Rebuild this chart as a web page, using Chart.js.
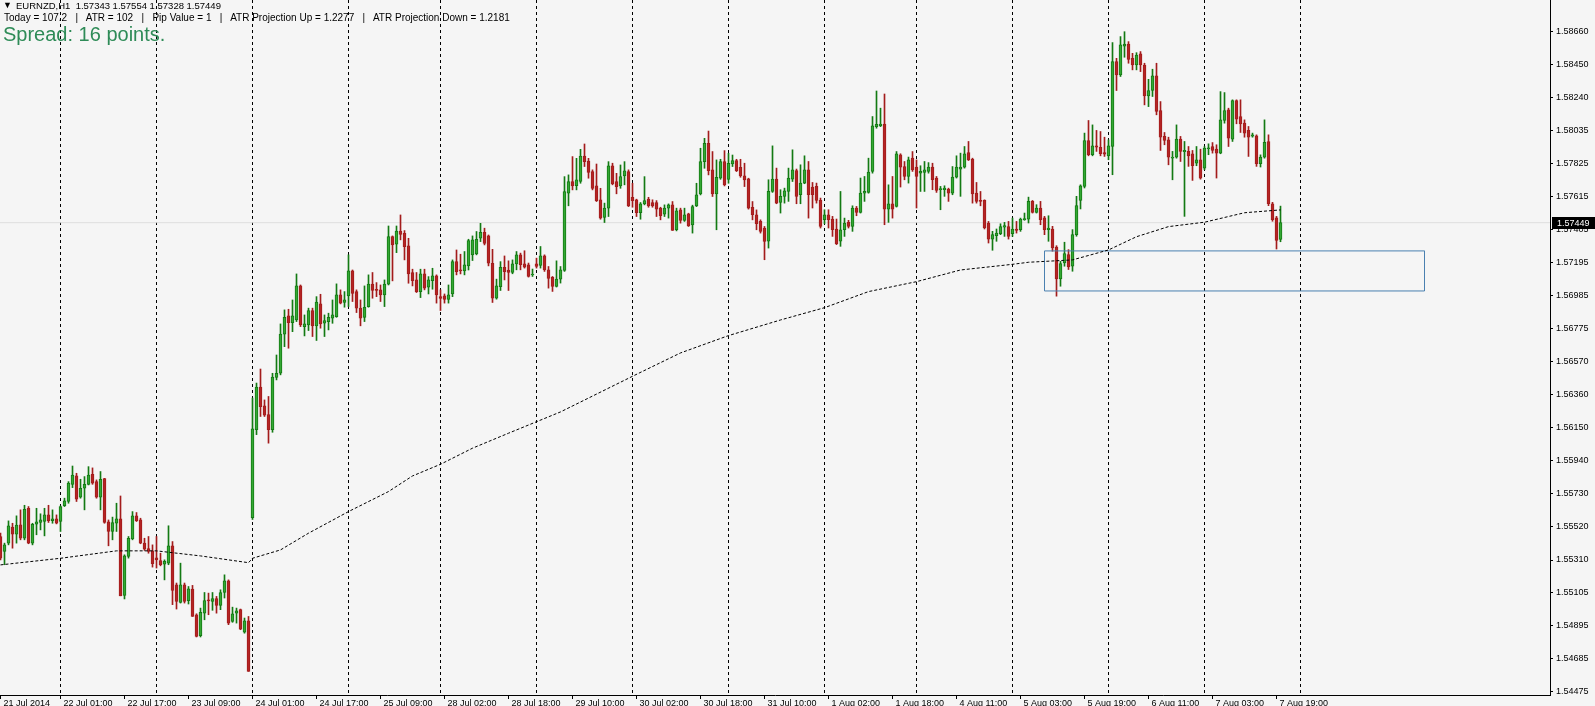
<!DOCTYPE html>
<html><head><meta charset="utf-8">
<script src="https://cdn.jsdelivr.net/npm/chart.js@4.4.1/dist/chart.umd.min.js"></script>
<style>
html,body{margin:0;padding:0;background:#f5f5f5;}
#wrap{position:relative;width:1595px;height:706px;overflow:hidden;background:#f5f5f5;}
#c{position:absolute;left:0;top:0;}
.hdr{position:absolute;white-space:pre;font-family:"Liberation Sans",Arial,sans-serif;color:#000;}
</style></head><body>
<div id="wrap">
<canvas id="c" width="1595" height="706"></canvas>
<div class="hdr" style="left:3px;top:0px;font-size:9px;line-height:10px">▼</div>
<div class="hdr" id="h1" style="left:16px;top:0px;font-size:9.5px;line-height:11px"></div>
<div class="hdr" id="h2" style="left:4px;top:12px;font-size:10px;line-height:12px"></div>
<div class="hdr" id="h3" style="left:3px;top:23px;font-size:20px;line-height:23px;color:#2e8b57"></div>
</div>
<script>
// ---------- DATA ----------
const symbolLine = 'EURNZD,H1  1.57343 1.57554 1.57328 1.57449';
const infoLine = 'Today = 107.2   |   ATR = 102   |   Pip Value = 1   |   ATR Projection Up = 1.2277   |   ATR Projection Down = 1.2181';
const spreadText = 'Spread: 16 points.';

const openP = [
1.55459,1.55364,1.55417,1.55518,1.55474,1.55533,1.55448,1.55638,1.55417,1.55537,
1.55548,1.55554,1.55596,1.55560,1.55571,1.55554,1.55655,1.55681,1.55790,1.55843,
1.55708,1.55765,1.55790,1.55854,1.55807,1.55708,1.55826,1.55552,1.55491,1.55543,
1.55571,1.55086,1.55332,1.55444,1.55590,1.55564,1.55417,1.55383,1.55368,1.55324,
1.55307,1.55284,1.55290,1.55400,1.55153,1.55041,1.55153,1.55052,1.55126,1.54963,
1.54830,1.54973,1.55057,1.55048,1.55065,1.55022,1.55104,1.55178,1.54921,1.54973,
1.54995,1.54853,1.54925,1.55578,1.56137,1.56407,1.56287,1.56232,1.56137,1.56468,
1.56494,1.56742,1.56858,1.56815,1.56832,1.57048,1.56790,1.56801,1.56892,1.56795,
1.56934,1.56811,1.56822,1.56843,1.56853,1.56991,1.56943,1.56985,1.57143,1.57012,
1.56907,1.56849,1.56917,1.57059,1.57027,1.57023,1.56991,1.57059,1.57361,1.57312,
1.57395,1.57382,1.57302,1.57133,1.57086,1.57012,1.57124,1.57040,1.57082,1.57112,
1.56980,1.56985,1.56963,1.56997,1.57202,1.57149,1.57143,1.57175,1.57245,1.57251,
1.57350,1.57388,1.57365,1.57192,1.56970,1.57044,1.57166,1.57149,1.57134,1.57188,
1.57245,1.57188,1.57182,1.57117,1.57188,1.57178,1.57239,1.57150,1.57102,1.57045,
1.57091,1.57146,1.57636,1.57710,1.57684,1.57710,1.57872,1.57840,1.57773,1.57682,
1.57594,1.57482,1.57541,1.57809,1.57710,1.57682,1.57746,1.57773,1.57610,1.57594,
1.57513,1.57568,1.57598,1.57577,1.57577,1.57541,1.57503,1.57541,1.57562,1.57404,
1.57530,1.57463,1.57505,1.57435,1.57556,1.57632,1.57836,1.57952,1.57784,1.57632,
1.57731,1.57836,1.57724,1.57821,1.57843,1.57800,1.57746,1.57727,1.57547,1.57499,
1.57457,1.57414,1.57331,1.57647,1.57725,1.57578,1.57616,1.57647,1.57725,1.57780,
1.57626,1.57700,1.57784,1.57675,1.57679,1.57590,1.57468,1.57499,1.57472,1.57409,
1.57331,1.57404,1.57451,1.57425,1.57542,1.57514,1.57636,1.57641,1.57774,1.58058,
1.58063,1.58075,1.57535,1.57569,1.57552,1.57879,1.57805,1.57742,1.57858,1.57801,
1.57763,1.57767,1.57774,1.57801,1.57732,1.57658,1.57658,1.57662,1.57636,1.57738,
1.57789,1.57801,1.57894,1.57852,1.57636,1.57590,1.57590,1.57447,1.57345,1.57367,
1.57379,1.57421,1.57425,1.57379,1.57409,1.57404,1.57468,1.57472,1.57584,1.57514,
1.57542,1.57479,1.57405,1.57409,1.57295,1.57092,1.57194,1.57246,1.57173,1.57373,
1.57590,1.57679,1.57970,1.57880,1.57936,1.57926,1.57894,1.57873,1.57932,1.58470,
1.58386,1.58569,1.58582,1.58491,1.58449,1.58519,1.58449,1.58253,1.58287,1.58380,
1.58160,1.57996,1.57974,1.57858,1.57865,1.57979,1.57899,1.57901,1.57886,1.57827,
1.57848,1.57795,1.57918,1.57932,1.57915,1.57890,1.58097,1.58164,1.57979,1.58223,
1.58122,1.58080,1.58034,1.57998,1.58000,1.57823,1.57865,1.57964,1.57569,1.57479,
1.57343];

const highP = [
1.55480,1.55417,1.55558,1.55543,1.55590,1.55628,1.55657,1.55649,1.55543,1.55638,
1.55603,1.55638,1.55657,1.55628,1.55596,1.55653,1.55702,1.55807,1.55906,1.55860,
1.55822,1.55839,1.55902,1.55894,1.55818,1.55871,1.55828,1.55564,1.55582,1.55670,
1.55716,1.55343,1.55459,1.55617,1.55611,1.55575,1.55448,1.55459,1.55406,1.55459,
1.55353,1.55311,1.55527,1.55427,1.55164,1.55290,1.55164,1.55142,1.55149,1.54969,
1.55005,1.55104,1.55100,1.55104,1.55079,1.55121,1.55216,1.55184,1.55011,1.55005,
1.54999,1.54942,1.54952,1.56337,1.56432,1.56521,1.56325,1.56347,1.56494,1.56610,
1.56807,1.56896,1.56900,1.56959,1.57124,1.57054,1.56864,1.56907,1.56907,1.56980,
1.56995,1.56864,1.56875,1.56959,1.57061,1.57023,1.57012,1.57245,1.57149,1.57023,
1.56959,1.57048,1.57118,1.57133,1.57069,1.57054,1.57086,1.57428,1.57365,1.57428,
1.57498,1.57399,1.57350,1.57154,1.57133,1.57154,1.57154,1.57107,1.57160,1.57118,
1.57023,1.56997,1.57054,1.57213,1.57276,1.57249,1.57266,1.57344,1.57365,1.57393,
1.57445,1.57414,1.57371,1.57280,1.57091,1.57202,1.57238,1.57207,1.57213,1.57266,
1.57256,1.57271,1.57193,1.57155,1.57224,1.57298,1.57245,1.57171,1.57108,1.57207,
1.57171,1.57741,1.57752,1.57868,1.57857,1.57914,1.57948,1.57857,1.57784,1.57821,
1.57667,1.57573,1.57836,1.57826,1.57762,1.57815,1.57836,1.57784,1.57699,1.57598,
1.57577,1.57741,1.57610,1.57594,1.57589,1.57547,1.57562,1.57568,1.57583,1.57541,
1.57541,1.57541,1.57509,1.57560,1.57699,1.57921,1.57984,1.58030,1.57900,1.57847,
1.57851,1.57906,1.57889,1.57878,1.57851,1.57851,1.57826,1.57731,1.57583,1.57530,
1.57467,1.57425,1.57721,1.57936,1.57795,1.57658,1.57668,1.57795,1.57911,1.57789,
1.57816,1.57873,1.57837,1.57704,1.57700,1.57605,1.57531,1.57531,1.57489,1.57472,
1.57647,1.57478,1.57464,1.57556,1.57552,1.57732,1.57742,1.57858,1.58122,1.58284,
1.58175,1.58265,1.57689,1.57742,1.57900,1.57886,1.57837,1.57865,1.57900,1.57847,
1.57810,1.57837,1.57830,1.57826,1.57742,1.57679,1.57683,1.57668,1.57805,1.57873,
1.57890,1.57932,1.57964,1.57858,1.57704,1.57647,1.57594,1.57457,1.57394,1.57409,
1.57442,1.57451,1.57457,1.57478,1.57457,1.57478,1.57510,1.57611,1.57590,1.57563,
1.57584,1.57489,1.57493,1.57426,1.57303,1.57204,1.57325,1.57278,1.57405,1.57616,
1.57689,1.58017,1.58097,1.58069,1.58034,1.58027,1.57991,1.57974,1.58591,1.58491,
1.58629,1.58660,1.58597,1.58523,1.58527,1.58534,1.58460,1.58358,1.58422,1.58460,
1.58217,1.58021,1.57991,1.57901,1.58069,1.57996,1.57964,1.57932,1.57907,1.57932,
1.57915,1.57932,1.57949,1.57957,1.57943,1.58280,1.58274,1.58175,1.58228,1.58228,
1.58228,1.58101,1.58059,1.58017,1.58006,1.57879,1.58101,1.58006,1.57578,1.57489,
1.57554];

const lowP = [
1.55311,1.55280,1.55406,1.55385,1.55417,1.55438,1.55438,1.55413,1.55406,1.55470,
1.55501,1.55463,1.55548,1.55543,1.55539,1.55491,1.55649,1.55670,1.55769,1.55681,
1.55702,1.55628,1.55786,1.55790,1.55702,1.55628,1.55543,1.55400,1.55438,1.55491,
1.55083,1.55063,1.55322,1.55438,1.55554,1.55413,1.55371,1.55353,1.55265,1.55259,
1.55273,1.55184,1.55280,1.55027,1.54999,1.55037,1.55037,1.55031,1.54952,1.54822,
1.54822,1.54931,1.54963,1.54991,1.54973,1.54995,1.55069,1.54900,1.54915,1.54910,
1.54868,1.54846,1.54604,1.55567,1.56105,1.56220,1.56220,1.56051,1.56120,1.56452,
1.56484,1.56663,1.56653,1.56758,1.56822,1.56790,1.56731,1.56765,1.56727,1.56702,
1.56780,1.56727,1.56769,1.56811,1.56849,1.56934,1.56913,1.56917,1.56949,1.56879,
1.56795,1.56822,1.56913,1.56970,1.56980,1.56949,1.56917,1.57054,1.57080,1.57259,
1.57340,1.57213,1.57065,1.57048,1.57006,1.56974,1.57023,1.56997,1.57027,1.56939,
1.56892,1.56939,1.56939,1.56980,1.57118,1.57124,1.57118,1.57149,1.57209,1.57245,
1.57329,1.57308,1.57175,1.56943,1.56964,1.57019,1.57086,1.57019,1.57125,1.57150,
1.57150,1.57161,1.57104,1.57108,1.57161,1.57161,1.57140,1.57034,1.57013,1.57041,
1.57066,1.57140,1.57556,1.57657,1.57657,1.57699,1.57805,1.57731,1.57657,1.57583,
1.57471,1.57450,1.57488,1.57689,1.57632,1.57667,1.57689,1.57551,1.57547,1.57488,
1.57471,1.57562,1.57547,1.57547,1.57488,1.57467,1.57488,1.57478,1.57400,1.57397,
1.57446,1.57457,1.57425,1.57383,1.57551,1.57625,1.57794,1.57752,1.57615,1.57404,
1.57724,1.57682,1.57699,1.57805,1.57773,1.57737,1.57678,1.57535,1.57467,1.57404,
1.57383,1.57214,1.57288,1.57641,1.57569,1.57510,1.57573,1.57584,1.57710,1.57569,
1.57569,1.57696,1.57478,1.57542,1.57573,1.57415,1.57442,1.57415,1.57362,1.57310,
1.57299,1.57362,1.57415,1.57394,1.57493,1.57510,1.57584,1.57636,1.57763,1.58048,
1.58058,1.57436,1.57451,1.57478,1.57548,1.57675,1.57721,1.57700,1.57774,1.57542,
1.57647,1.57647,1.57763,1.57658,1.57641,1.57531,1.57616,1.57584,1.57626,1.57732,
1.57616,1.57795,1.57843,1.57573,1.57573,1.57556,1.57409,1.57320,1.57274,1.57331,
1.57373,1.57362,1.57345,1.57362,1.57383,1.57394,1.57464,1.57447,1.57510,1.57510,
1.57436,1.57373,1.57331,1.57268,1.56983,1.57046,1.57173,1.57152,1.57141,1.57363,
1.57536,1.57669,1.57873,1.57873,1.57901,1.57873,1.57869,1.57848,1.57753,1.58287,
1.58376,1.58498,1.58460,1.58418,1.58418,1.58407,1.58196,1.58185,1.58249,1.58133,
1.57907,1.57943,1.57816,1.57721,1.57858,1.57837,1.57489,1.57806,1.57717,1.57810,
1.57725,1.57785,1.57880,1.57890,1.57732,1.57886,1.58080,1.57932,1.57964,1.58076,
1.58021,1.57991,1.57869,1.57991,1.57806,1.57802,1.57858,1.57557,1.57458,1.57282,
1.57328];

const closeP = [
1.55322,1.55406,1.55526,1.55474,1.55531,1.55448,1.55632,1.55417,1.55537,1.55552,
1.55564,1.55596,1.55560,1.55571,1.55543,1.55649,1.55685,1.55797,1.55849,1.55695,
1.55765,1.55790,1.55849,1.55797,1.55708,1.55822,1.55548,1.55491,1.55548,1.55571,
1.55083,1.55337,1.55448,1.55590,1.55560,1.55417,1.55379,1.55364,1.55286,1.55311,
1.55280,1.55301,1.55400,1.55117,1.55048,1.55153,1.55048,1.55128,1.54952,1.54826,
1.54978,1.55052,1.55050,1.55065,1.55022,1.55104,1.55178,1.54910,1.54969,1.54988,
1.54872,1.54925,1.54604,1.56141,1.56407,1.56283,1.56228,1.56137,1.56470,1.56494,
1.56742,1.56849,1.56815,1.56858,1.57048,1.56801,1.56807,1.56892,1.56795,1.56945,
1.56807,1.56828,1.56849,1.56864,1.56991,1.56939,1.56959,1.57143,1.57001,1.56907,
1.56843,1.56913,1.57059,1.57019,1.57019,1.56991,1.57059,1.57361,1.57308,1.57395,
1.57374,1.57297,1.57124,1.57082,1.57012,1.57124,1.57033,1.57086,1.57112,1.56991,
1.56968,1.56963,1.56991,1.57202,1.57139,1.57143,1.57181,1.57335,1.57340,1.57344,
1.57388,1.57318,1.57192,1.56970,1.57048,1.57166,1.57139,1.57133,1.57188,1.57245,
1.57182,1.57167,1.57108,1.57121,1.57171,1.57239,1.57150,1.57096,1.57045,1.57091,
1.57150,1.57646,1.57710,1.57682,1.57720,1.57872,1.57836,1.57767,1.57667,1.57589,
1.57478,1.57541,1.57809,1.57695,1.57678,1.57741,1.57777,1.57556,1.57589,1.57513,
1.57568,1.57589,1.57556,1.57556,1.57535,1.57494,1.57541,1.57562,1.57400,1.57524,
1.57463,1.57499,1.57429,1.57551,1.57625,1.57836,1.57952,1.57779,1.57632,1.57737,
1.57836,1.57689,1.57826,1.57843,1.57779,1.57746,1.57720,1.57541,1.57499,1.57442,
1.57393,1.57330,1.57647,1.57725,1.57573,1.57616,1.57651,1.57732,1.57784,1.57616,
1.57700,1.57784,1.57626,1.57626,1.57590,1.57425,1.57499,1.57468,1.57404,1.57316,
1.57404,1.57447,1.57425,1.57542,1.57514,1.57636,1.57647,1.57770,1.58063,1.58073,
1.58075,1.57535,1.57569,1.57535,1.57886,1.57801,1.57742,1.57848,1.57784,1.57742,
1.57774,1.57784,1.57801,1.57721,1.57654,1.57666,1.57668,1.57636,1.57738,1.57801,
1.57801,1.57886,1.57847,1.57632,1.57584,1.57584,1.57415,1.57345,1.57373,1.57383,
1.57425,1.57430,1.57362,1.57409,1.57400,1.57472,1.57472,1.57584,1.57514,1.57542,
1.57468,1.57405,1.57415,1.57289,1.57092,1.57189,1.57253,1.57168,1.57373,1.57557,
1.57683,1.57970,1.57880,1.57936,1.57928,1.57886,1.57884,1.57936,1.58470,1.58386,
1.58576,1.58582,1.58485,1.58449,1.58512,1.58449,1.58253,1.58287,1.58380,1.58154,
1.57991,1.57970,1.57865,1.57865,1.57979,1.57901,1.57907,1.57873,1.57810,1.57848,
1.57732,1.57922,1.57922,1.57907,1.57890,1.58101,1.58160,1.57985,1.58223,1.58105,
1.58076,1.58017,1.57991,1.58006,1.57823,1.57865,1.57958,1.57569,1.57468,1.57337,
1.57449];

// moving average (dotted line) read at selected bars
const maIdx = [0,15,29,39,50,62,63,70,77,87,97,103,110,118,127,140,158,170,182,195,206,217,229,240,253,257,268,277,284,292,301,311,320];
const maVal = [1.55279,1.55321,1.55368,1.55368,1.55336,1.55293,1.55321,1.55374,1.55480,1.55617,1.55744,1.55843,1.55917,1.56019,1.56114,1.56249,1.56475,1.56623,1.56733,1.56832,1.56910,1.57012,1.57075,1.57149,1.57185,1.57198,1.57213,1.57276,1.57360,1.57424,1.57452,1.57512,1.57530];

// rectangle zone
const zoneX = [261,356,356,261,261];
const zoneY = [1.57270,1.57270,1.57016,1.57016,1.57270];

const lastPrice = 1.57449;

// day separators (bar index)
const sepIdx = [15,39,63,87,110,134,158,182,206,229,253,277,301,325];

// x tick labels
const xTickIdx = [0,15,31,47,63,79,95,111,127,143,159,175,191,207,223,239,255,271,287,303,319];
const xTickLabels = ['21 Jul 2014','22 Jul 01:00','22 Jul 17:00','23 Jul 09:00','24 Jul 01:00','24 Jul 17:00','25 Jul 09:00','28 Jul 02:00','28 Jul 18:00','29 Jul 10:00','30 Jul 02:00','30 Jul 18:00','31 Jul 10:00','1 Aug 02:00','1 Aug 18:00','4 Aug 11:00','5 Aug 03:00','5 Aug 19:00','6 Aug 11:00','7 Aug 03:00','7 Aug 19:00'];

// y tick labels
const yTickLabels = ['1.58660','1.58450','1.58240','1.58035','1.57825','1.57615','1.57405','1.57195','1.56985','1.56775','1.56570','1.56360','1.56150','1.55940','1.55730','1.55520','1.55310','1.55105','1.54895','1.54685','1.54475'];

// ---------- RENDER ----------
document.getElementById('h1').textContent = symbolLine;
document.getElementById('h2').textContent = infoLine;
document.getElementById('h3').textContent = spreadText;

const FONT = 'Liberation Sans';
const upLine = '#137a13', upFill = '#34a834', dnLine = '#a31c1c', dnFill = '#b42424';
const isUp = openP.map((o,i)=>closeP[i] >= o);

const bodyData = openP.map((o,i)=>({x:i, y:[Math.min(o,closeP[i]), Math.max(o,closeP[i])]}));
const wickData = openP.map((o,i)=>({x:i, y:[lowP[i], highP[i]]}));

const sepPlugin = {
  id:'sep',
  beforeDatasetsDraw(chart){
    const {ctx, chartArea:a, scales:{x}} = chart;
    ctx.save();
    ctx.strokeStyle = '#000'; ctx.lineWidth = 1; ctx.setLineDash([3,3]);
    sepIdx.forEach(v=>{
      const px = Math.round(x.getPixelForValue(v) - 0.5) + 0.5;
      ctx.beginPath(); ctx.moveTo(px, a.top); ctx.lineTo(px, a.bottom); ctx.stroke();
    });
    ctx.restore();
  }
};
const priceBox = {
  id:'pbox',
  afterDraw(chart){
    const {ctx, scales:{y}, chartArea:a} = chart;
    const py = Math.round(y.getPixelForValue(lastPrice));
    ctx.save();
    ctx.fillStyle = '#000';
    ctx.fillRect(a.right + 2, py - 6, 1595 - a.right - 2, 12);
    ctx.fillStyle = '#fff';
    ctx.font = '9px "' + FONT + '"';
    ctx.textBaseline = 'middle';
    ctx.fillText(lastPrice.toFixed(5), a.right + 7, py + 0.5);
    ctx.restore();
  }
};

new Chart(document.getElementById('c'), {
  type:'bar',
  data:{datasets:[
    {type:'line', data: maIdx.map((v,k)=>({x:v, y:maVal[k]})), borderColor:'#000', borderWidth:1, borderDash:[3,2], pointRadius:0, tension:0, fill:false, order:1},
    {type:'line', data: zoneX.map((v,k)=>({x:v, y:zoneY[k]})), borderColor:'#4a80b0', borderWidth:1, pointRadius:0, tension:0, fill:false, order:2},
    {type:'bar', data: bodyData, backgroundColor: isUp.map(u=>u?upFill:dnFill), borderColor: isUp.map(u=>u?upLine:dnLine), borderWidth:1, borderSkipped:false, barThickness:3, grouped:false, minBarLength:1, order:3},
    {type:'bar', data: wickData, backgroundColor: isUp.map(u=>u?upLine:dnLine), borderWidth:0, barThickness:1, grouped:false, minBarLength:1, order:4},
    {type:'line', data:[{x:-0.125, y:lastPrice},{x:387.375, y:lastPrice}], borderColor:'#dedede', borderWidth:1, pointRadius:0, fill:false, order:5}
  ]},
  options:{
    responsive:false, animation:false, devicePixelRatio:1,
    layout:{padding:0},
    plugins:{legend:{display:false}, tooltip:{enabled:false}},
    scales:{
      x:{type:'linear', min:-0.125, max:387.375, offset:false,
        grid:{drawOnChartArea:false, drawTicks:true, tickLength:4, color:'#000', tickColor:'#000', offset:false},
        border:{color:'#000', width:1},
        ticks:{autoSkip:false, maxRotation:0, minRotation:0, align:'start', labelOffset:3, padding:-1, color:'#000', font:{family:FONT, size:9},
          callback:(v,i)=>xTickLabels[i]},
        afterBuildTicks(s){ s.ticks = xTickIdx.map(v=>({value:v})); },
        afterFit(s){ s.height = 11; s.paddingLeft = 0; s.paddingRight = 0; }
      },
      y:{type:'linear', position:'right', min:1.54454, max:1.58861,
        grid:{drawOnChartArea:false, drawTicks:true, tickLength:3, color:'#000', tickColor:'#000'},
        border:{color:'#000', width:1},
        ticks:{autoSkip:false, padding:3, color:'#000', font:{family:FONT, size:9},
          callback:(v,i)=>yTickLabels[i]},
        afterBuildTicks(s){ s.ticks = yTickLabels.map(t=>({value:Number(t)})); },
        afterFit(s){ s.width = 45; s.paddingTop = 0; s.paddingBottom = 0; }
      }
    }
  },
  plugins:[sepPlugin, priceBox]
});
</script>
</body></html>
